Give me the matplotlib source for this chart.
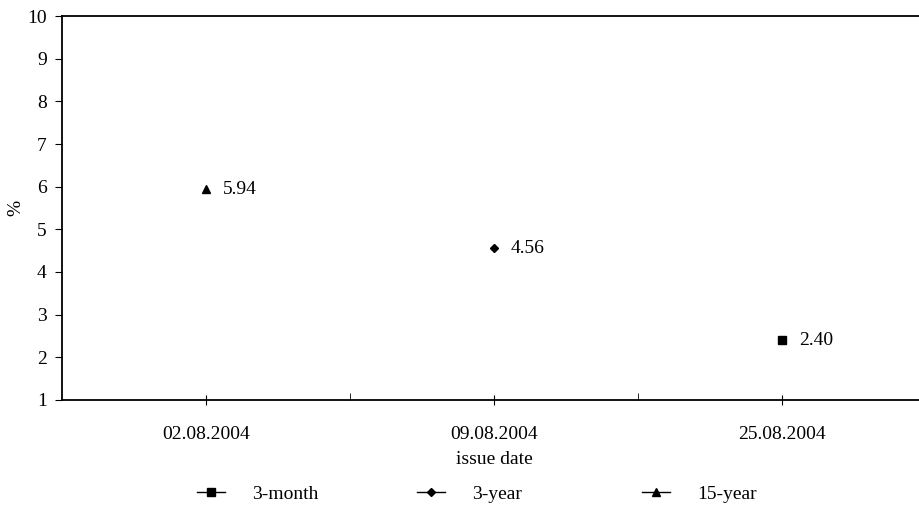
import matplotlib.pyplot as plt
from matplotlib.ticker import FixedLocator

plt.rcParams['font.family'] = ['Liberation Serif', 'DejaVu Serif']

dates = ['02.08.2004', '09.08.2004', '25.08.2004']
series = ['3-month', '3-year', '15-year']
cat_index = [2, 1, 0]          # which issue date each series sits on
values = [2.40, 4.56, 5.94]
markers = ['s', 'D', '^']
msizes = [6, 4.5, 6]

fig = plt.figure(figsize=(9.2, 5.05), dpi=100)
ax = fig.add_axes([62 / 920, 1 - 400 / 505, (926 - 62) / 920, (400 - 16) / 505])

handles = []
for name, ci, v, m, ms in zip(series, cat_index, values, markers, msizes):
    ax.plot([ci], [v], marker=m, ms=ms, color='black', linestyle='none')
    h, = ax.plot([], [], marker=m, ms=ms, color='black', linewidth=1, label=name)
    handles.append(h)
    ax.annotate(f'{v:.2f}', (ci, v), xytext=(12, 0), textcoords='offset points',
                va='center', ha='left', fontsize=14)

ax.set_xlim(-0.5, 2.5)
ax.set_ylim(1, 10)
ax.set_yticks(range(1, 11))
ax.set_xticks(range(3))
ax.set_xticklabels(dates, fontsize=14)
ax.xaxis.set_minor_locator(FixedLocator([0.5, 1.5]))
ax.tick_params(axis='x', which='major', direction='inout', length=7, pad=15)
ax.tick_params(axis='x', which='minor', direction='in', length=5)
ax.tick_params(axis='y', direction='out', length=5, labelsize=14, pad=6)
for s in ax.spines.values():
    s.set_linewidth(1.3)
ax.spines['right'].set_visible(False)

ax.set_xlabel('issue date', fontsize=14, labelpad=6)
ax.set_ylabel('%', fontsize=14, labelpad=2)

# legend entries spaced evenly along the bottom
for h, x0 in zip(handles, [197, 417, 642]):
    fig.legend(handles=[h], loc='center left', bbox_to_anchor=(x0 / 920, 1 - 494 / 505),
               frameon=False, fontsize=14, handlelength=1.45, handletextpad=1.4,
               borderpad=0, borderaxespad=0)

fig.savefig('out.png')
